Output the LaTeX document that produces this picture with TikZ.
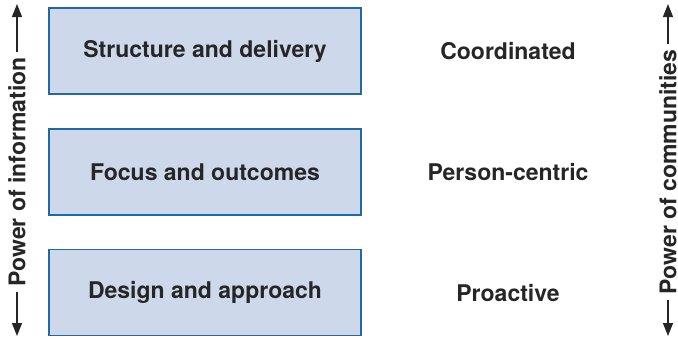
\documentclass[tikz,border=0pt]{standalone}
\usepackage{fontspec}
\setmainfont{TeX Gyre Heros}
\usetikzlibrary{arrows.meta}
\definecolor{boxfill}{HTML}{CDD9EA}
\definecolor{boxline}{HTML}{1F6AA5}
\begin{document}
\begin{tikzpicture}[x=1pt, y=-1pt]
    \tikzstyle{area}=[minimum width=312pt, minimum height=86pt,
                      % The border:
                      draw=boxline, line width=1.6pt,
                      % The filling:
                      fill=boxfill,
                      font=\fontsize{23}{26}\selectfont\bfseries, text=black!85]
    \tikzstyle{quality}=[font=\fontsize{23}{26}\selectfont\bfseries, text=black!85]
    \tikzstyle{axis}=[font=\fontsize{23}{26}\selectfont\bfseries, text=black!85, rotate=90, inner sep=5pt]
    \tikzstyle{axisline}=[line width=1.3pt, black!85, -{Triangle[length=13pt, width=10pt]}]
    \useasboundingbox (0,0) rectangle (678,338);
    \node[area] (structure) at (205,51) {Structure and delivery};
    \node[area] (focus) at (205,172) {Focus and outcomes};
    \node[area] (design) at (205,292.5) {Design and approach};
    \node[quality] (coordinated) at (508,51) {Coordinated};
    \node[quality] (personcentric) at (508,172) {Person-centric};
    \node[quality] (proactive) at (508,293) {Proactive};
    % side axes
    \node[axis] (information) at (17,172) {Power of information};
    \coordinate (infotop) at (17,4);
    \coordinate (infobottom) at (17,336);
    \draw[axisline] (information.east) -- (infotop);
    \draw[axisline] (information.west) -- (infobottom);
    \node[axis] (communities) at (668,172) {Power of communities};
    \coordinate (commtop) at (668,4);
    \coordinate (commbottom) at (668,336);
    \draw[axisline] (communities.east) -- (commtop);
    \draw[axisline] (communities.west) -- (commbottom);
\end{tikzpicture}
\end{document}
